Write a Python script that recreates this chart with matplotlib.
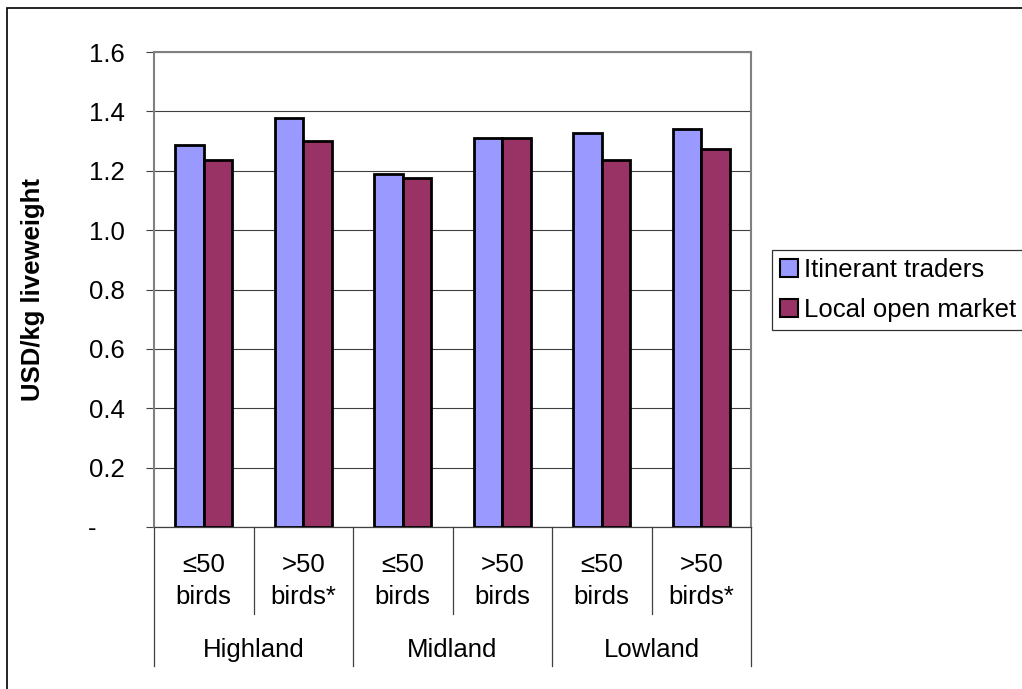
import matplotlib
matplotlib.use("Agg")
import matplotlib.pyplot as plt
import matplotlib.transforms as mtransforms
from matplotlib.patches import Rectangle
import numpy as np

plt.rcParams["font.family"] = ["Liberation Sans", "DejaVu Sans"]

# ── data ────────────────────────────────────────────────────────────────────
sub_labels = ["≤50\nbirds", ">50\nbirds*", "≤50\nbirds", ">50\nbirds", "≤50\nbirds", ">50\nbirds*"]
regions = ["Highland", "Midland", "Lowland"]
itinerant = [1.288, 1.377, 1.189, 1.311, 1.326, 1.342]
local_market = [1.236, 1.299, 1.176, 1.311, 1.236, 1.273]
series_names = ["Itinerant traders", "Local open market"]
y_ticks = [0.0, 0.2, 0.4, 0.6, 0.8, 1.0, 1.2, 1.4, 1.6]

BLUE = "#9999FF"
PLUM = "#993366"
FS = 18.5

W, H = 1022, 689
fig = plt.figure(figsize=(W / 100, H / 100), dpi=100)
ax = fig.add_axes([154 / W, 1 - 527 / H, (751 - 154) / W, (527 - 52) / H])

x = np.arange(len(sub_labels))
bw = 0.2857
ax.bar(x - bw / 2, itinerant, bw, color=BLUE, edgecolor="black", linewidth=2, zorder=3)
ax.bar(x + bw / 2, local_market, bw, color=PLUM, edgecolor="black", linewidth=2, zorder=3)

ax.set_xlim(-0.5, len(sub_labels) - 0.5)
ax.set_ylim(0, 1.6)
ax.set_yticks(y_ticks)
# accounting-style zero: dash sits left of the number column
ax.set_yticklabels(["-    " if v == 0 else f"{v:.1f}" for v in y_ticks], fontsize=FS)
ax.tick_params(axis="y", length=5.8, width=0.8, pad=15, color="#404040")
ax.set_xticks([])
ax.yaxis.grid(True, color="#404040", linewidth=0.8)
ax.set_axisbelow(True)

for side in ["left", "top", "right"]:
    ax.spines[side].set_color("#808080")
    ax.spines[side].set_linewidth(1.5)
ax.spines["bottom"].set_color("#404040")
ax.spines["bottom"].set_linewidth(0.9)

ax.set_ylabel("USD/kg liveweight", fontsize=FS, fontweight="bold")
ax.yaxis.set_label_coords(-0.183, 0.5)

# ── multi-level category axis ───────────────────────────────────────────────
trans = mtransforms.blended_transform_factory(ax.transData, ax.transAxes)
for i, lab in enumerate(sub_labels):
    top, bottom = lab.split("\n")
    ax.text(i, -0.080, top, transform=trans, ha="center", va="center", fontsize=FS)
    ax.text(i, -0.148, bottom, transform=trans, ha="center", va="center", fontsize=FS)

per_group = len(sub_labels) // len(regions)
for g, name in enumerate(regions):
    cx = g * per_group + (per_group - 1) / 2
    ax.text(cx, -0.259, name, transform=trans, ha="center", va="center", fontsize=FS)

for k in range(len(sub_labels) + 1):
    xb = k - 0.5
    y_end = -0.2926 if k % per_group == 0 else -0.183
    ax.plot([xb, xb], [0, y_end], transform=trans, color="#404040",
            linewidth=0.9, clip_on=False)

# ── legend ──────────────────────────────────────────────────────────────────
handles = [Rectangle((0, 0), 1, 1, facecolor=c, edgecolor="black", linewidth=1.5)
           for c in (BLUE, PLUM)]
leg = fig.legend(handles, series_names, loc="upper left",
                 bbox_to_anchor=(772 / W, 1 - 250 / H), bbox_transform=fig.transFigure,
                 fontsize=FS, frameon=True, fancybox=False, borderaxespad=0,
                 handlelength=0.68, handleheight=0.68, handletextpad=0.25,
                 borderpad=0.32, labelspacing=0.62)
leg.get_frame().set_edgecolor("black")
leg.get_frame().set_linewidth(0.9)

# outer chart border (right and bottom edges fall outside the image)
fig.add_artist(Rectangle((7 / W, -5 / H), (1030 - 7) / W, (694 - 8) / H,
                         transform=fig.transFigure, fill=False,
                         edgecolor="black", linewidth=1.2))

fig.savefig("out.png", dpi=100)
